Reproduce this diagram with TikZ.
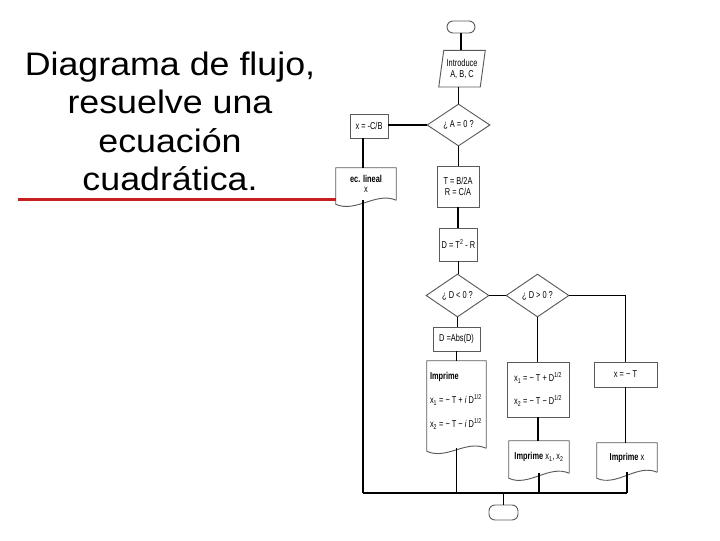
\documentclass[tikz,border=0pt]{standalone}
\usepackage{fontspec}
\setmainfont{Liberation Sans}
\usepackage{graphicx}
\usetikzlibrary{shapes.geometric}
\definecolor{redline}{RGB}{200,30,30}
\definecolor{shpc}{RGB}{90,90,90}
\newcommand{\nn}[1]{\scalebox{0.74}[1]{#1}}
\newcommand{\tl}[1]{\scalebox{1.1}[1]{#1}}
\newcommand{\fcfont}{\fontsize{7.5}{8}\selectfont}
\begin{document}
\begin{tikzpicture}[x=0.75pt,y=-0.75pt,
  conn/.style={line width=1.1pt, black},
  shp/.style={draw=shpc, line width=0.7pt},
  boxn/.style={shp, rectangle, inner sep=0pt, font=\fcfont, align=center},
  dia/.style={shp, diamond, inner sep=0pt, font=\fcfont, minimum width=47.25pt, minimum height=31.5pt},
  txt/.style={inner sep=0pt, font=\fcfont, align=center},
  term/.style={shp, rectangle, rounded corners=4.5pt, inner sep=0pt},
  ttl/.style={font=\fontsize{24.4}{29}\selectfont, anchor=base, inner sep=0pt}]
\useasboundingbox (0,0) rectangle (720,540);

% title
\node[ttl] (t1) at (170,75) {\tl{Diagrama de flujo,}};
\node[ttl] (t2) at (170,113.5) {\tl{resuelve una}};
\node[ttl] (t3) at (170,152) {\tl{ecuación}};
\node[ttl] (t4) at (170,190.5) {\tl{cuadrática.}};

% nodes
\node[term, minimum width=21pt, minimum height=9pt] (start) at (461,27) {};
\node[txt, minimum width=30.75pt, minimum height=27pt] (inp) at (462,68.7) {\nn{Introduce}\\\nn{A, B, C}};
\draw[shp] ([xshift=-1.875pt]inp.south west) -- ([xshift=1.875pt]inp.north west) -- ([xshift=1.875pt]inp.north east) -- ([xshift=-1.875pt]inp.south east) -- cycle;
\node[dia] (dA) at (458.5,125) {\nn{¿ A = 0 ?}};
\node[boxn, minimum width=28.5pt, minimum height=18pt] (xcb) at (369,126) {\nn{x = -C/B}};
\node[txt, minimum width=45pt, minimum height=24pt] (ecl) at (366,184) {\nn{\bfseries ec. lineal}\\\nn{x}};
\draw[shp] (ecl.south east) -- (ecl.north east) -- (ecl.north west) -- ([yshift=-3pt]ecl.south west) .. controls +(20,9) and +(-20,-9) .. (ecl.south east);
\node[boxn, minimum width=31.5pt, minimum height=30.75pt] (TR) at (458,186.5) {\nn{T = B/2A}\\\nn{R = C/A}};
\node[boxn, minimum width=28.5pt, minimum height=24.75pt] (Dbx) at (458.5,244.5) {\nn{D = T\textsuperscript{2} - R}};
\node[dia, minimum height=32.25pt] (dlt) at (457.5,295.5) {\nn{¿ D < 0 ?}};
\node[dia, minimum height=32.25pt] (dgt) at (537.5,295.5) {\nn{¿ D > 0 ?}};
\node[boxn, minimum width=35.25pt, minimum height=18pt] (abs) at (456.5,339) {\nn{D =Abs(D)}};
\node[txt, minimum width=44.25pt, minimum height=65.25pt] (imp) at (456.5,404.5) {};
\draw[shp] (imp.south east) -- (imp.north east) -- (imp.north west) -- ([yshift=-2.25pt]imp.south west) .. controls +(20,9) and +(-20,-9) .. (imp.south east);
\node[txt, align=left, anchor=north west] (impt) at ([xshift=2.25pt,yshift=-8.25pt]imp.north west) {\nn{\bfseries Imprime}\\[9pt]\nn{x\textsubscript{1} = − T + \textit{i} D\textsuperscript{1/2}}\\[9pt]\nn{x\textsubscript{2} = − T − \textit{i} D\textsuperscript{1/2}}};
\node[boxn, minimum width=46.5pt, minimum height=41.25pt] (x12) at (538,389.5) {\nn{x\textsubscript{1} = − T + D\textsuperscript{1/2}}\\[8.5pt]\nn{x\textsubscript{2} = − T − D\textsuperscript{1/2}}};
\node[boxn, minimum width=47.25pt, minimum height=18.75pt] (xT) at (625.5,374.5) {\nn{x = − T}};
\node[txt, minimum width=45pt, minimum height=24pt] (ix12) at (539,457) {\nn{\bfseries Imprime \mdseries x\textsubscript{1}, x\textsubscript{2}}};
\draw[shp] (ix12.south east) -- (ix12.north east) -- (ix12.north west) -- ([yshift=-3.75pt]ix12.south west) .. controls +(20,9) and +(-20,-9) .. (ix12.south east);
\node[txt, minimum width=45pt, minimum height=21.75pt] (ix) at (627,457.5) {\nn{\bfseries Imprime \mdseries x}};
\draw[shp] (ix.south east) -- (ix.north east) -- (ix.north west) -- ([yshift=-4.5pt]ix.south west) .. controls +(20,9) and +(-20,-9) .. (ix.south east);
\node[term, minimum width=21.75pt, minimum height=11.25pt] (end) at (503.5,512.5) {};

\coordinate (bl) at (363,493);
\coordinate (rl) at (18,199.5);

% connectors
\draw[conn] (start.south) -- (start.south |- inp.north);
\draw[conn] (dA.north |- inp.south) -- (dA.north);
\draw[conn] (dA.west) -- (dA.west -| xcb.east);
\draw[conn] (xcb.south -| bl) -- (ecl.north -| bl);
\draw[conn] (ecl.south -| bl) -- (bl);
\draw[conn] (dA.south) -- (dA.south |- TR.north);
\draw[conn] (TR.south) -- (TR.south |- Dbx.north);
\draw[conn] (Dbx.south) -- (Dbx.south |- dlt.north);
\draw[conn] (dlt.east) -- (dgt.west);
\draw[conn] (dgt.east) -| (xT.north);
\draw[conn] (dgt.south) -- (dgt.south |- x12.north);
\draw[conn] (dlt.south) -- (dlt.south |- abs.north);
\draw[conn] (abs.south) -- (abs.south |- imp.north);
\draw[conn] (imp.south) -- (imp.south |- bl);
\draw[conn] (x12.south) -- (x12.south |- ix12.north);
\draw[conn] (ix12.south) -- (ix12.south |- bl);
\draw[conn] (xT.south) -- (xT.south |- ix.north);
\draw[conn] (ix.south) -- (ix.south |- bl);
\draw[conn] (bl) -- (ix.south |- bl);
\draw[conn] (end.north |- bl) -- (end.north);
\draw[redline, line width=2.2pt] (rl) -- (rl -| ecl.west);
\end{tikzpicture}
\end{document}
